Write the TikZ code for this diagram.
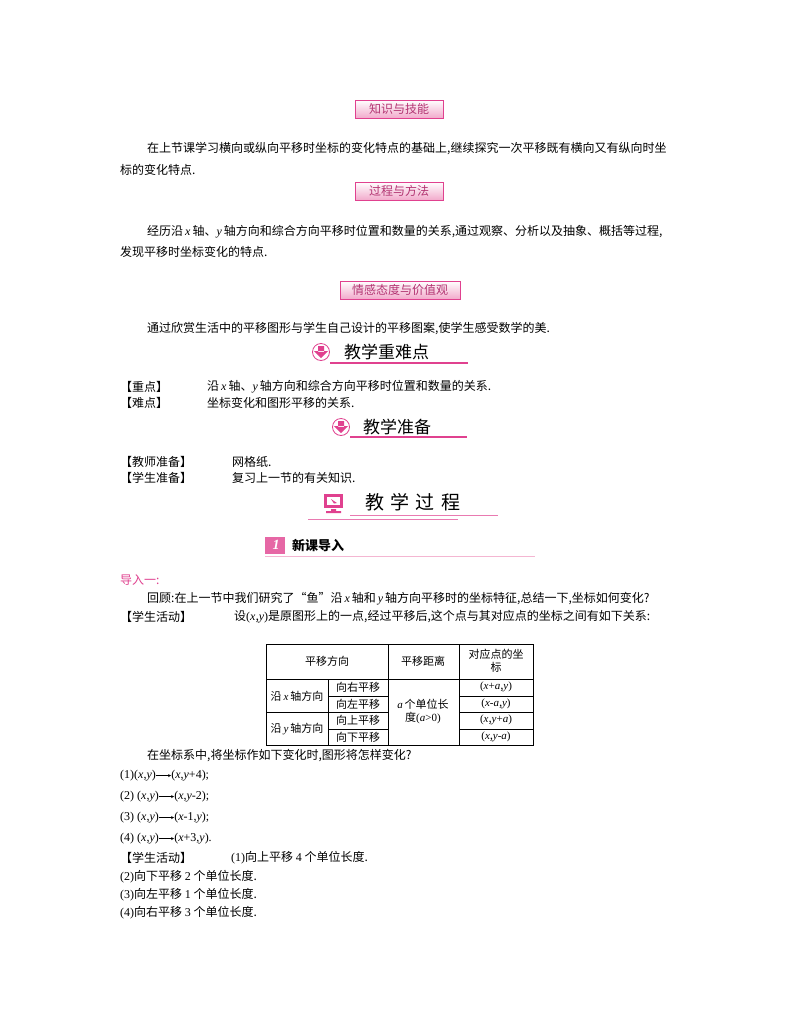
\documentclass[tikz,border=0pt]{standalone}
\usepackage{fontspec}
\setmainfont{Noto Sans CJK SC}
\newfontfamily\tm{Liberation Serif}
\usetikzlibrary{arrows.meta}
\definecolor{pk}{HTML}{E0418F}
\definecolor{lpk}{HTML}{F4B6D2}
\newcommand{\V}[1]{{\tm\itshape #1}}
\newcommand{\R}[1]{{\tm #1}}
\newcommand{\ar}{\tikz[baseline=-0.6ex]\draw[-{Stealth[length=3pt,width=3pt]},line width=0.5pt](0,0)--(15pt,0);}
\tikzset{
 tx/.style={anchor=west,inner sep=0pt,font=\fontsize{12}{14}\selectfont},
 badge/.style={draw=pk,line width=0.8pt,top color=white,bottom color=lpk!90!pk,minimum height=18pt,inner sep=2pt,font=\fontsize{12}{14}\selectfont,text=pk!80!black},
 hd/.style={anchor=west,inner sep=0pt,font=\fontsize{17}{20}\selectfont},
 tc/.style={inner sep=0pt,font=\fontsize{11}{13}\selectfont}
}
\begin{document}
\begin{tikzpicture}[x=1pt,y=-1pt]
\useasboundingbox (0,0) rectangle (800,1028);
\fill[white] (0,0) rectangle (800,1028);
\node[badge,minimum width=88pt] (b1) at (399,109) {知识与技能};
\node[tx] (t1) at (147,149) {在上节课学习横向或纵向平移时坐标的变化特点的基础上,继续探究一次平移既有横向又有纵向时坐};
\node[tx] (t2) at (120,170) {标的变化特点.};
\node[badge,minimum width=88pt] (b2) at (399,191) {过程与方法};
\node[tx] (t3) at (147,232) {经历沿\,\V{x}\,轴、\V{y}\,轴方向和综合方向平移时位置和数量的关系,通过观察、分析以及抽象、概括等过程,};
\node[tx] (t4) at (120,252) {发现平移时坐标变化的特点.};
\node[badge,minimum width=120pt] (b3) at (400,290) {情感态度与价值观};
\node[tx] (t5) at (147,329) {通过欣赏生活中的平移图形与学生自己设计的平移图案,使学生感受数学的美.};
% header 1
\draw[pk,line width=1.2pt] (330,363)--(468,363);
\node[circle,draw=pk,fill=white,line width=0.8pt,minimum size=17pt,inner sep=0pt] (i1) at (321,352) {};
\fill[pk] (318,346) rectangle (324,352) (314,351)--(328,351)--(321,358)--cycle;
\node[hd] (h1) at (344,352) {教学重难点};
\node[tx] (t6) at (120,387) {【重点】};
\node[tx] (t7) at (207,387) {沿\,\V{x}\,轴、\V{y}\,轴方向和综合方向平移时位置和数量的关系.};
\node[tx] (t8) at (120,403) {【难点】};
\node[tx] (t9) at (207,403) {坐标变化和图形平移的关系.};
\draw[pk,line width=1.2pt] (350,437)--(467,437);
\node[circle,draw=pk,fill=white,line width=0.8pt,minimum size=17pt,inner sep=0pt] (i2) at (341,427) {};
\fill[pk] (338,421) rectangle (344,427) (334,426)--(348,426)--(341,433)--cycle;
\node[hd] (h2) at (363,427) {教学准备};
\node[tx] (t10) at (120,462) {【教师准备】};
\node[tx] (t11) at (232,462) {网格纸.};
\node[tx] (t12) at (120,478) {【学生准备】};
\node[tx] (t13) at (232,478) {复习上一节的有关知识.};
% header 3
\draw[pk!70,line width=0.8pt] (350,515)--(498,515);
\draw[pk!70,line width=0.8pt] (308,519)--(458,519);
\fill[pk] (324,494) rectangle (343,508);
\fill[white] (327,497) rectangle (340,505);
\fill[pk] (331,509) rectangle (336,511) (326,511) rectangle (341,513);
\fill[pk] (331,499)--(337,503)--(334,503.5)--cycle;
\node[hd,font=\fontsize{19}{22}\selectfont] (h3) at (365,502) {教\,\,学\,\,过\,\,程};
% header 4
\draw[lpk,line width=1pt] (265,556)--(535,556);
\fill[pk!80] (265,537) rectangle (285,554);
\node[font=\bfseries\itshape\fontsize{14}{14}\selectfont,text=white,inner sep=0pt] (n1) at (276,545) {\tm 1};
\node[tx,font=\bfseries\fontsize{13}{15}\selectfont] (h4) at (292,546) {新课导入};
\node[tx,text=pk] (d1) at (120,580) {导入一:};
\node[tx] (t14) at (147,599) {回顾:在上一节中我们研究了“鱼”沿\,\V{x}\,轴和\,\V{y}\,轴方向平移时的坐标特征,总结一下,坐标如何变化?};
\node[tx] (t15) at (120,617) {【学生活动】};
\node[tx] (t16) at (234,617) {设\R{(}\V{x},\V{y}\R{)}是原图形上的一点,经过平移后,这个点与其对应点的坐标之间有如下关系:};
% table
\draw[line width=0.6pt] (266,644) rectangle (533,745);
\draw (266,679)--(533,679) (388,644)--(388,745) (459,644)--(459,745) (328,679)--(328,745) (266,712)--(388,712);
\draw (328,696)--(388,696) (328,729)--(388,729) (459,696)--(533,696) (459,712)--(533,712) (459,729)--(533,729);
\node[tc] (c1) at (327,661) {平移方向};
\node[tc] (c2) at (423,661) {平移距离};
\node[tc,align=center] (c3) at (496,661) {对应点的坐\\标};
\node[tc] (c4) at (297,696) {沿\,\V{x}\,轴方向};
\node[tc] (c5) at (297,729) {沿\,\V{y}\,轴方向};
\node[tc] (c6) at (358,687) {向右平移};
\node[tc] (c7) at (358,704) {向左平移};
\node[tc] (c8) at (358,720) {向上平移};
\node[tc] (c9) at (358,737) {向下平移};
\node[tc,align=center] (c10) at (423,712) {\V{a}\,个单位长\\度\R{(}\V{a}\R{>0)}};
\node[tc] (c11) at (496,687) {\R{(}\V{x}\R{+}\V{a},\V{y}\R{)}};
\node[tc] (c12) at (496,704) {\R{(}\V{x}\R{-}\V{a},\V{y}\R{)}};
\node[tc] (c13) at (496,720) {\R{(}\V{x},\V{y}\R{+}\V{a}\R{)}};
\node[tc] (c14) at (496,737) {\R{(}\V{x},\V{y}\R{-}\V{a}\R{)}};
\node[tx] (t17) at (147,756) {在坐标系中,将坐标作如下变化时,图形将怎样变化?};
\node[tx,font=\tm\fontsize{12}{14}\selectfont] (e1) at (120,776) {(1)(\V{x},\V{y})\ar(\V{x},\V{y}+4);};
\node[tx,font=\tm\fontsize{12}{14}\selectfont] (e2) at (120,797) {(2) (\V{x},\V{y})\ar(\V{x},\V{y}-2);};
\node[tx,font=\tm\fontsize{12}{14}\selectfont] (e3) at (120,818) {(3) (\V{x},\V{y})\ar(\V{x}-1,\V{y});};
\node[tx,font=\tm\fontsize{12}{14}\selectfont] (e4) at (120,839) {(4) (\V{x},\V{y})\ar(\V{x}+3,\V{y}).};
\node[tx] (t18) at (120,858) {【学生活动】};
\node[tx] (t19) at (231,858) {\R{(1)}向上平移 \R{4} 个单位长度.};
\node[tx] (t20) at (120,877) {\R{(2)}向下平移 \R{2} 个单位长度.};
\node[tx] (t21) at (120,895) {\R{(3)}向左平移 \R{1} 个单位长度.};
\node[tx] (t22) at (120,913) {\R{(4)}向右平移 \R{3} 个单位长度.};
\end{tikzpicture}
\end{document}
